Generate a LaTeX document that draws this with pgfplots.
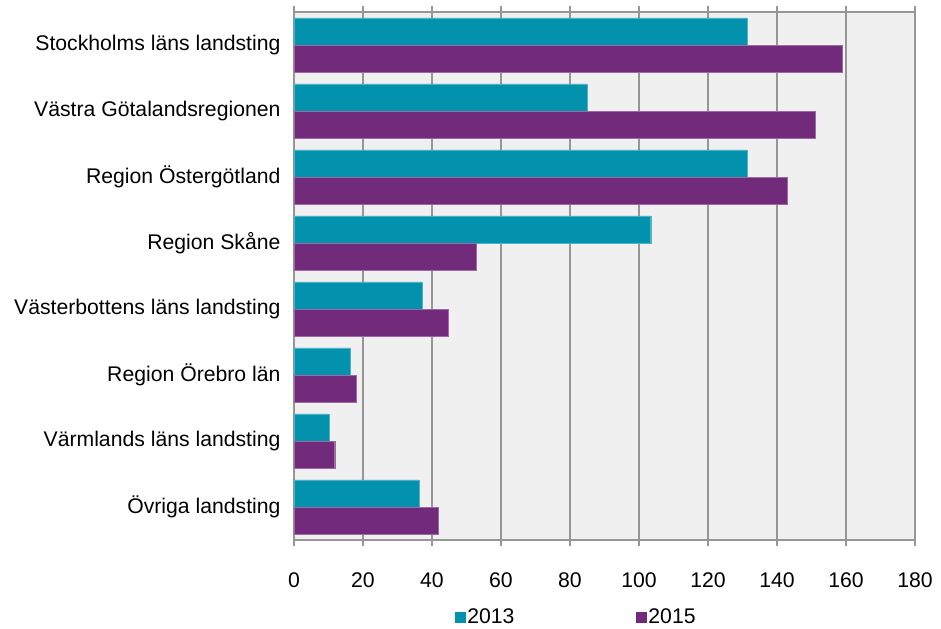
\documentclass[border=0pt]{standalone}
\usepackage{pgfplots}
\pgfplotsset{compat=1.18}
\usepackage{fontspec}
\setmainfont{Liberation Sans}
\definecolor{teal13}{RGB}{3,146,174}
\definecolor{purp15}{RGB}{114,42,122}
\definecolor{plotbg}{RGB}{240,240,240}
\definecolor{gridc}{RGB}{150,150,150}
\begin{document}
\begin{tikzpicture}
\path[use as bounding box] (-294bp,-89bp) rectangle (647bp,540bp);
\begin{axis}[
  at={(0,0)}, anchor=south west,
  scale only axis,
  width=621bp, height=528bp,
  xbar,
  bar width=0.41,
  y dir=reverse,
  ymin=-0.5, ymax=7.5,
  xmin=0, xmax=180,
  xtick distance=20,
  ytick={0,...,7},
  yticklabels={Stockholms läns landsting, Västra Götalandsregionen, Region Östergötland, Region Skåne, Västerbottens läns landsting, Region Örebro län, Värmlands läns landsting, Övriga landsting},
  font=\fontsize{21.2bp}{25bp}\selectfont,
  /pgf/number format/assume math mode=true,
  axis background/.style={fill=plotbg},
  axis line style={gridc, line width=1.2bp},
  xmajorgrids,
  major grid style={gridc, line width=1.2bp},
  tick align=outside,
  major tick length=6bp,
  xtick style={gridc, line width=1.2bp},
  ytick style={draw=none},
  xticklabel shift=23bp,
  yticklabel shift=4bp,
  legend style={at={(0.454,-0.146)}, anchor=center, draw=none, fill=none,
    legend columns=2, cells={anchor=west}, nodes={inner sep=1.5bp},
    /tikz/every even column/.append style={column sep=120bp}},
  legend image code/.code={\fill[#1, draw=none] (0bp,-5.5bp) rectangle (11bp,5.5bp);},
]
\addplot[fill=teal13, draw=teal13!70!white, bar shift=-0.205] coordinates {
  (131.3,0) (84.9,1) (131.3,2) (103.4,3) (37.1,4) (16.4,5) (10.1,6) (36.2,7)
};
\addplot[fill=purp15, draw=purp15!70!white, bar shift=0.205] coordinates {
  (158.9,0) (151.0,1) (142.9,2) (52.9,3) (44.8,4) (17.9,5) (11.8,6) (41.9,7)
};
\legend{2013, 2015}
\end{axis}
\end{tikzpicture}
\end{document}
